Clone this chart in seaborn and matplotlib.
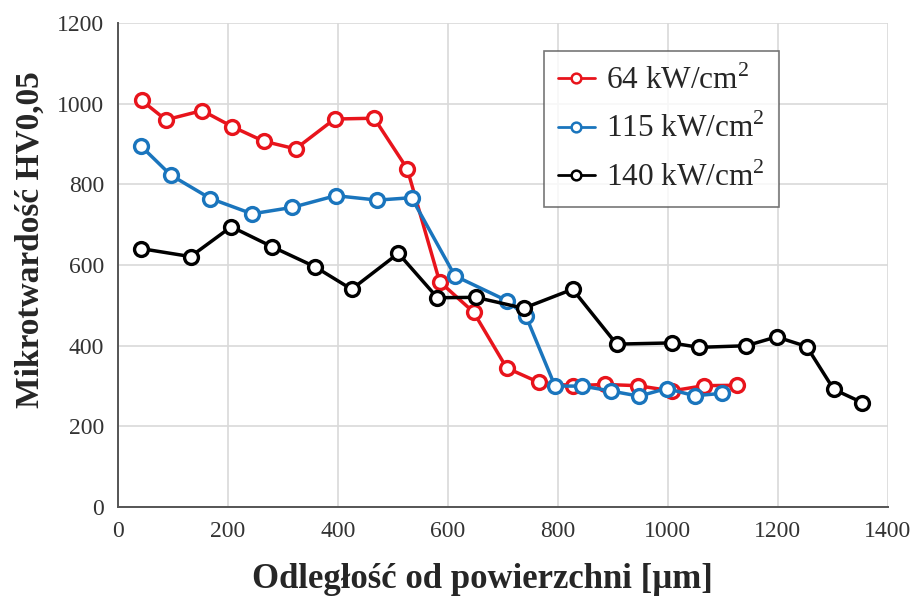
import pandas as pd
import matplotlib.pyplot as plt
import seaborn as sns
from matplotlib.ticker import MultipleLocator

# distance from surface [um] and microhardness HV0,05 for each power density
x_64 = [43, 87, 153, 208, 265, 323, 394, 466, 526, 585, 647, 707, 766, 827, 886, 946, 1007, 1066, 1126]
hv_64 = [1008, 960, 983, 943, 907, 888, 962, 964, 839, 559, 483, 345, 309, 301, 304, 301, 288, 301, 302]

x_115 = [41, 96, 168, 244, 317, 396, 472, 534, 613, 707, 742, 795, 845, 896, 948, 998, 1049, 1099]
hv_115 = [896, 823, 765, 727, 743, 772, 761, 767, 573, 512, 474, 300, 300, 288, 275, 294, 276, 282]

x_140 = [41, 132, 206, 281, 358, 425, 510, 581, 651, 738, 827, 907, 1007, 1057, 1143, 1198, 1253, 1302, 1354]
hv_140 = [641, 621, 695, 645, 596, 540, 629, 519, 520, 493, 540, 404, 407, 396, 400, 422, 398, 292, 259]

labels = ['64 kW/cm$^{2}$', '115 kW/cm$^{2}$', '140 kW/cm$^{2}$']
colors = ['#e8141c', '#1a75bd', '#000000']

sns.set_style('white')
plt.rcParams['font.family'] = ['Liberation Serif', 'DejaVu Serif']
plt.rcParams['mathtext.fontset'] = 'custom'
plt.rcParams['mathtext.rm'] = 'Liberation Serif'

fig, ax = plt.subplots(figsize=(9.15, 5.98), dpi=100)
fig.subplots_adjust(left=0.129, right=0.970, bottom=0.152, top=0.9615)

series = [(x_64, hv_64), (x_115, hv_115), (x_140, hv_140)]
for (xs, ys), lab, col in zip(series, labels, colors):
    df = pd.DataFrame({'x': xs, 'hv': ys})
    sns.lineplot(data=df, x='x', y='hv', ax=ax, color=col, label=lab, linewidth=2.5,
                 marker='o', markersize=10, markerfacecolor='white',
                 markeredgecolor=col, markeredgewidth=2.4, zorder=3)

ax.set_xlim(0, 1400)
ax.set_ylim(0, 1200)
ax.xaxis.set_major_locator(MultipleLocator(200))
ax.xaxis.set_minor_locator(MultipleLocator(40))
ax.yaxis.set_major_locator(MultipleLocator(200))
ax.yaxis.set_minor_locator(MultipleLocator(40))

ax.grid(True, which='major', color='#d9d9d9', linewidth=1.2)
ax.tick_params(which='major', direction='inout', length=14, width=1.2, color='#555555',
               labelsize=17, labelcolor='#333333', pad=3)
ax.tick_params(which='minor', direction='in', length=6, width=1.0, color='#555555')
for side in ['top', 'right']:
    ax.spines[side].set_visible(False)
for side in ['left', 'bottom']:
    ax.spines[side].set_color('#555555')
    ax.spines[side].set_linewidth(1.4)

ax.set_xlabel('Odległość od powierzchni [µm]', fontsize=25, fontweight='bold')
ax.set_ylabel('Mikrotwardość HV0,05', fontsize=24, fontweight='bold')
ax.xaxis.set_label_coords(0.473, -0.115)
ax.yaxis.set_label_coords(-0.094, 0.552)

leg = ax.legend(loc='upper left', bbox_to_anchor=(0.553, 0.942), fontsize=22.5,
                frameon=True, fancybox=False, edgecolor='#555555', handlelength=1.2,
                handletextpad=0.35, borderpad=0.45, labelspacing=0.58, borderaxespad=0)
leg.get_frame().set_linewidth(1.2)
for h in leg.legend_handles:
    h.set_markersize(7)
    h.set_markeredgewidth(1.8)
    h.set_linewidth(2)

plt.savefig('out.png', dpi=100)
